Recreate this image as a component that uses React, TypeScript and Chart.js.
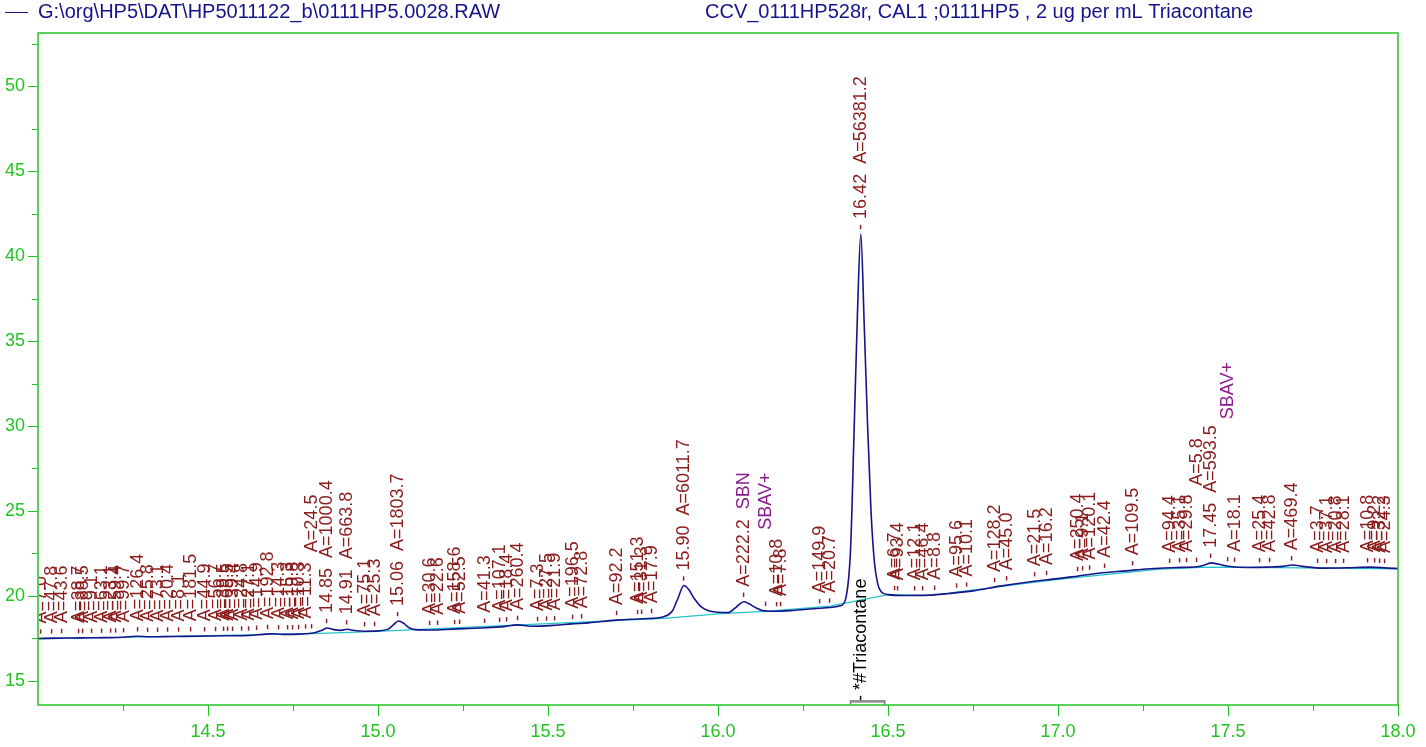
import { useEffect, useRef } from 'react';
import { Chart, registerables } from 'chart.js';

Chart.register(...registerables);

// ---------- text ----------
const headerFile = 'G:\\org\\HP5\\DAT\\HP5011122_b\\0111HP5.0028.RAW';
const headerSample = 'CCV_0111HP528r, CAL1 ;0111HP5 , 2 ug per mL Triacontane';
const compoundName = '*#Triacontane';
const compoundRt = 16.42;
const compoundWindow = [16.39, 16.49];

// ---------- axes ----------
const xRange = [14.0, 18.0];
const yRange = [13.588, 53.118];
const xMajorTicks = [14.5, 15.0, 15.5, 16.0, 16.5, 17.0, 17.5, 18.0];
const xMinorTicks = [14.25, 14.75, 15.25, 15.75, 16.25, 16.75, 17.25, 17.75];
const yMajorTicks = [15, 20, 25, 30, 35, 40, 45, 50];
const yMinorTicks = [17.5, 22.5, 27.5, 32.5, 37.5, 42.5, 47.5, 52.5];

// ---------- signal trace (retention time, response) ----------
const traceRt = [
  14.0, 14.05, 14.1, 14.15, 14.2, 14.25, 14.29, 14.33, 14.4, 14.47, 14.55, 14.62, 14.66, 14.69, 14.72, 14.77,
  14.81, 14.835, 14.85, 14.87, 14.89, 14.91, 14.93, 14.96, 15.0, 15.03, 15.045, 15.06, 15.075, 15.09, 15.11,
  15.15, 15.22, 15.3, 15.37, 15.41, 15.45, 15.52, 15.57, 15.62, 15.7, 15.78, 15.84, 15.865, 15.88, 15.9,
  15.915, 15.93, 15.95, 15.97, 16.0, 16.03, 16.05, 16.065, 16.076, 16.09, 16.11, 16.13, 16.17, 16.22, 16.28,
  16.33, 16.36, 16.375, 16.39, 16.4, 16.41, 16.42, 16.43, 16.44, 16.45, 16.46, 16.47, 16.48, 16.5, 16.55,
  16.62, 16.68, 16.75, 16.83, 16.92, 17.0, 17.06, 17.12, 17.2, 17.27, 17.35, 17.41, 17.435, 17.45, 17.47,
  17.5, 17.56, 17.62, 17.66, 17.69, 17.72, 17.78, 17.85, 17.92, 17.97, 18.0,
];
const traceSignal = [
  17.5, 17.52, 17.53, 17.54, 17.55, 17.57, 17.63, 17.6, 17.62, 17.63, 17.66, 17.68, 17.74, 17.78, 17.74, 17.76,
  17.82, 17.98, 18.12, 18.02, 17.98, 18.04, 17.97, 17.93, 17.95, 18.05, 18.3, 18.53, 18.4, 18.15, 18.02,
  18.0, 18.05, 18.12, 18.2, 18.3, 18.22, 18.28, 18.36, 18.42, 18.58, 18.66, 18.78, 19.1, 19.75, 20.62,
  20.35, 19.85, 19.38, 19.15, 19.04, 19.02, 19.28, 19.55, 19.66, 19.56, 19.32, 19.15, 19.1, 19.15, 19.25,
  19.32, 19.42, 19.8, 22.8, 29.5, 36.5, 41.3, 36.0, 30.0, 25.0, 22.0, 20.7, 20.25, 20.08, 20.03,
  20.05, 20.15, 20.3, 20.58, 20.84, 21.02, 21.18, 21.34, 21.48, 21.6, 21.68, 21.72, 21.85, 21.95, 21.88,
  21.75, 21.68, 21.7, 21.74, 21.82, 21.74, 21.64, 21.66, 21.7, 21.64, 21.62,
];

// ---------- integration baseline ----------
const baselineRt = [14.0, 14.83, 14.98, 15.84, 16.02, 16.14, 16.33, 16.5, 16.62, 17.0, 17.3, 17.42, 17.5, 18.0];
const baselineSignal = [17.47, 17.8, 17.9, 18.68, 18.98, 19.1, 19.4, 20.08, 20.03, 20.98, 21.58, 21.68, 21.7, 21.6];

// ---------- peak labels: [retention time, area, stack tier] ----------
const peakLabels: [number, string, number][] = [
  [14.009, '7.0', 0], [14.041, '47.8', 0], [14.071, '43.6', 0], [14.121, '38.7', 0], [14.132, '88.5', 0],
  [14.159, '9.1', 0], [14.188, '63.1', 0], [14.215, '23.1', 0], [14.229, '59.4', 0], [14.253, '99.7', 0],
  [14.294, '126.4', 0], [14.324, '25.8', 0], [14.353, '73.1', 0], [14.382, '20.4', 0], [14.415, '8.1', 0],
  [14.45, '181.5', 0], [14.491, '44.9', 0], [14.524, '56.7', 0], [14.547, '39.5', 0], [14.559, '65.5', 0],
  [14.574, '39.4', 0], [14.6, '24.8', 0], [14.621, '27.1', 0], [14.644, '14.9', 0], [14.676, '192.8', 0],
  [14.709, '14.3', 0], [14.735, '15.3', 0], [14.75, '19.8', 0], [14.768, '10.3', 0], [14.788, '11.3', 0],
  [14.806, '24.5', 1], [14.85, '1000.4', 0], [14.91, '663.8', 0], [14.962, '75.1', 0], [14.991, '25.3', 0],
  [15.06, '1803.7', 0], [15.153, '30.6', 0], [15.176, '22.6', 0], [15.226, '158.6', 0], [15.241, '52.5', 0],
  [15.315, '41.3', 0], [15.359, '107.1', 0], [15.379, '18.4', 0], [15.412, '260.4', 0], [15.471, '7.3', 0],
  [15.497, '27.5', 0], [15.521, '21.9', 0], [15.574, '196.5', 0], [15.6, '72.8', 0], [15.703, '92.2', 0],
  [15.765, '151.3', 0], [15.776, '31.3', 0], [15.806, '17.9', 0], [15.9, '6011.7', 0], [16.076, '222.2', 0],
  [16.174, '10.8', 0], [16.185, '7.8', 0], [16.3, '149.9', 0], [16.329, '20.7', 0], [16.42, '56381.2', 0],
  [16.521, '6.7', 0], [16.529, '93.4', 0], [16.579, '12.1', 0], [16.603, '46.4', 0], [16.638, '8.8', 0],
  [16.703, '95.6', 0], [16.732, '10.1', 0], [16.815, '128.2', 0], [16.85, '45.0', 0], [16.932, '21.5', 0],
  [16.968, '16.2', 0], [17.059, '250.4', 0], [17.074, '9.1', 0], [17.094, '120.1', 0], [17.138, '42.4', 0],
  [17.221, '109.5', 0], [17.329, '94.4', 0], [17.359, '35.1', 0], [17.379, '29.8', 0], [17.409, '5.8', 1],
  [17.45, '593.5', 0], [17.521, '18.1', 0], [17.594, '25.4', 0], [17.624, '42.8', 0], [17.688, '469.4', 0],
  [17.765, '3.7', 0], [17.791, '37.1', 0], [17.818, '20.8', 0], [17.841, '28.1', 0], [17.912, '10.8', 0],
  [17.932, '9.2', 0], [17.947, '32.2', 0], [17.962, '24.3', 0],
];
// peaks whose retention time is printed
const namedPeakRt = [14.85, 14.91, 15.06, 15.9, 16.42, 17.45];
// peak codes printed after the area
const peakCodes: [number, string][] = [[16.076, 'SBN']];
// baseline codes: [retention time, code, stack tier]
const baselineCodes: [number, string, number][] = [[16.141, 'SBAV+', 1], [17.5, 'SBAV+', 2]];

// ---------- styles ----------
const NAVY = '#14148c';
const CYAN = '#22c4c8';
const RED = '#8b1c1c';
const PURPLE = '#8c1a8c';
const GREEN = '#22c422';
const FONT = '"Liberation Sans", Arial, sans-serif';
const LABEL_FONT = `18px ${FONT}`;
const TIER_LIFT = 66;

function interpTrace(rt: number): number {
  if (rt <= traceRt[0]) return traceSignal[0];
  for (let i = 1; i < traceRt.length; i++) {
    if (rt <= traceRt[i]) {
      const t = (rt - traceRt[i - 1]) / (traceRt[i] - traceRt[i - 1]);
      return traceSignal[i - 1] + t * (traceSignal[i] - traceSignal[i - 1]);
    }
  }
  return traceSignal[traceSignal.length - 1];
}

const decorPlugin = {
  id: 'decor',
  afterDatasetsDraw(chart: any) {
    const { ctx, chartArea } = chart;
    const xs = chart.scales.x;
    const ys = chart.scales.y;
    ctx.save();
    ctx.beginPath();
    ctx.rect(chartArea.left + 1, 0, chartArea.right - chartArea.left - 1, chartArea.bottom);
    ctx.clip();
    ctx.font = LABEL_FONT;
    ctx.textAlign = 'left';
    ctx.textBaseline = 'middle';
    const dashW = ctx.measureText('- ').width;

    const drawVertical = (rt: number, parts: { text: string; color: string }[], tier: number, dashColor: string) => {
      const x = xs.getPixelForValue(rt);
      const y0 = ys.getPixelForValue(interpTrace(rt)) - 4;
      ctx.save();
      ctx.translate(x, y0);
      ctx.rotate(-Math.PI / 2);
      ctx.fillStyle = dashColor;
      ctx.fillText('-', 0, 0);
      let pos = dashW + tier * TIER_LIFT;
      parts.forEach((p, i) => {
        if (i > 0) pos += ctx.measureText('  ').width;
        ctx.fillStyle = p.color;
        ctx.fillText(p.text, pos, 0);
        pos += ctx.measureText(p.text).width;
      });
      ctx.restore();
    };

    peakLabels.forEach(([rt, area, tier]) => {
      const parts: { text: string; color: string }[] = [];
      if (namedPeakRt.some((r) => Math.abs(r - rt) < 1e-6)) parts.push({ text: rt.toFixed(2), color: RED });
      parts.push({ text: `A=${area}`, color: RED });
      const code = peakCodes.find(([r]) => Math.abs(r - rt) < 1e-6);
      if (code) parts.push({ text: code[1], color: PURPLE });
      drawVertical(rt, parts, tier, RED);
    });
    baselineCodes.forEach(([rt, code, tier]) => {
      drawVertical(rt, [{ text: code, color: PURPLE }], tier, PURPLE);
    });

    // compound marker
    const cx = xs.getPixelForValue(compoundRt);
    ctx.save();
    ctx.translate(cx, chartArea.bottom - 4);
    ctx.rotate(-Math.PI / 2);
    ctx.fillStyle = '#000';
    ctx.fillText('- ' + compoundName, 0, 0);
    ctx.restore();
    ctx.restore();

    const bx1 = xs.getPixelForValue(compoundWindow[0]);
    const bx2 = xs.getPixelForValue(compoundWindow[1]);
    ctx.save();
    ctx.strokeStyle = '#6e6e6e';
    ctx.lineWidth = 1.5;
    ctx.beginPath();
    ctx.moveTo(bx1, chartArea.bottom);
    ctx.lineTo(bx1, chartArea.bottom - 4);
    ctx.lineTo(bx2, chartArea.bottom - 4);
    ctx.lineTo(bx2, chartArea.bottom);
    ctx.stroke();
    ctx.strokeStyle = '#b0b0b0';
    ctx.lineWidth = 1;
    ctx.beginPath();
    ctx.moveTo(bx1, chartArea.bottom - 2.5);
    ctx.lineTo(bx2, chartArea.bottom - 2.5);
    ctx.stroke();
    ctx.restore();
  },
  afterDraw(chart: any) {
    const { ctx, chartArea } = chart;
    const xs = chart.scales.x;
    const ys = chart.scales.y;
    ctx.save();
    // frame
    ctx.strokeStyle = GREEN;
    ctx.lineWidth = 1.5;
    ctx.strokeRect(chartArea.left, chartArea.top, chartArea.right - chartArea.left, chartArea.bottom - chartArea.top);
    // ticks
    ctx.lineWidth = 1;
    ctx.beginPath();
    yMajorTicks.forEach((v) => {
      const y = Math.round(ys.getPixelForValue(v)) + 0.5;
      ctx.moveTo(chartArea.left - 10, y);
      ctx.lineTo(chartArea.left, y);
    });
    yMinorTicks.forEach((v) => {
      const y = Math.round(ys.getPixelForValue(v)) + 0.5;
      ctx.moveTo(chartArea.left - 6, y);
      ctx.lineTo(chartArea.left, y);
    });
    xMajorTicks.forEach((v) => {
      const x = Math.round(xs.getPixelForValue(v)) + 0.5;
      ctx.moveTo(x, chartArea.bottom);
      ctx.lineTo(x, chartArea.bottom + 11);
    });
    xMinorTicks.forEach((v) => {
      const x = Math.round(xs.getPixelForValue(v)) + 0.5;
      ctx.moveTo(x, chartArea.bottom);
      ctx.lineTo(x, chartArea.bottom + 6);
    });
    ctx.stroke();

    // header
    ctx.font = `20px ${FONT}`;
    ctx.fillStyle = NAVY;
    ctx.textBaseline = 'middle';
    ctx.textAlign = 'left';
    ctx.strokeStyle = NAVY;
    ctx.lineWidth = 1;
    ctx.beginPath();
    ctx.moveTo(5, 12.5);
    ctx.lineTo(28, 12.5);
    ctx.stroke();
    ctx.fillText(headerFile, 38, 12);
    ctx.fillText(headerSample, 705, 12);
    ctx.restore();
  },
};

export default function App() {
  const ref = useRef<HTMLCanvasElement | null>(null);
  useEffect(() => {
    if (!ref.current) return;
    const chart = new Chart(ref.current, {
      type: 'line',
      data: {
        datasets: [
          {
            label: 'signal',
            data: traceRt.map((x, i) => ({ x, y: traceSignal[i] })),
            borderColor: NAVY,
            borderWidth: 1.6,
            pointRadius: 0,
            cubicInterpolationMode: 'monotone',
            fill: false,
          },
          {
            label: 'baseline',
            data: baselineRt.map((x, i) => ({ x, y: baselineSignal[i] })),
            borderColor: CYAN,
            borderWidth: 1.2,
            pointRadius: 0,
            tension: 0,
            fill: false,
          },
        ],
      },
      options: {
        animation: false,
        responsive: false,
        events: [],
        layout: { padding: { top: 33, right: 28, left: 0, bottom: 0 } },
        plugins: { legend: { display: false }, tooltip: { enabled: false } },
        scales: {
          x: {
            type: 'linear',
            min: xRange[0],
            max: xRange[1],
            afterBuildTicks: (s: any) => {
              s.ticks = xMajorTicks.map((v) => ({ value: v }));
            },
            afterFit: (s: any) => {
              s.height = 42;
              s.paddingLeft = 0;
              s.paddingRight = 0;
            },
            grid: { display: false, drawTicks: false },
            border: { display: false },
            ticks: {
              color: GREEN,
              font: { family: FONT, size: 18 },
              padding: 16,
              maxRotation: 0,
              autoSkip: false,
              callback: (v: any) => Number(v).toFixed(1),
            },
          },
          y: {
            type: 'linear',
            min: yRange[0],
            max: yRange[1],
            afterBuildTicks: (s: any) => {
              s.ticks = yMajorTicks.map((v) => ({ value: v }));
            },
            afterFit: (s: any) => {
              s.width = 38;
              s.paddingTop = 0;
              s.paddingBottom = 0;
            },
            grid: { display: false, drawTicks: false },
            border: { display: false },
            ticks: {
              color: GREEN,
              font: { family: FONT, size: 18 },
              padding: 13,
              autoSkip: false,
              callback: (v: any) => String(v),
            },
          },
        },
      } as any,
      plugins: [decorPlugin],
    });
    return () => chart.destroy();
  }, []);
  return (
    <div style={{ position: 'fixed', left: 0, top: 0, width: 1426, height: 747, background: '#fff' }}>
      <canvas ref={ref} width={1426} height={747} />
    </div>
  );
}
